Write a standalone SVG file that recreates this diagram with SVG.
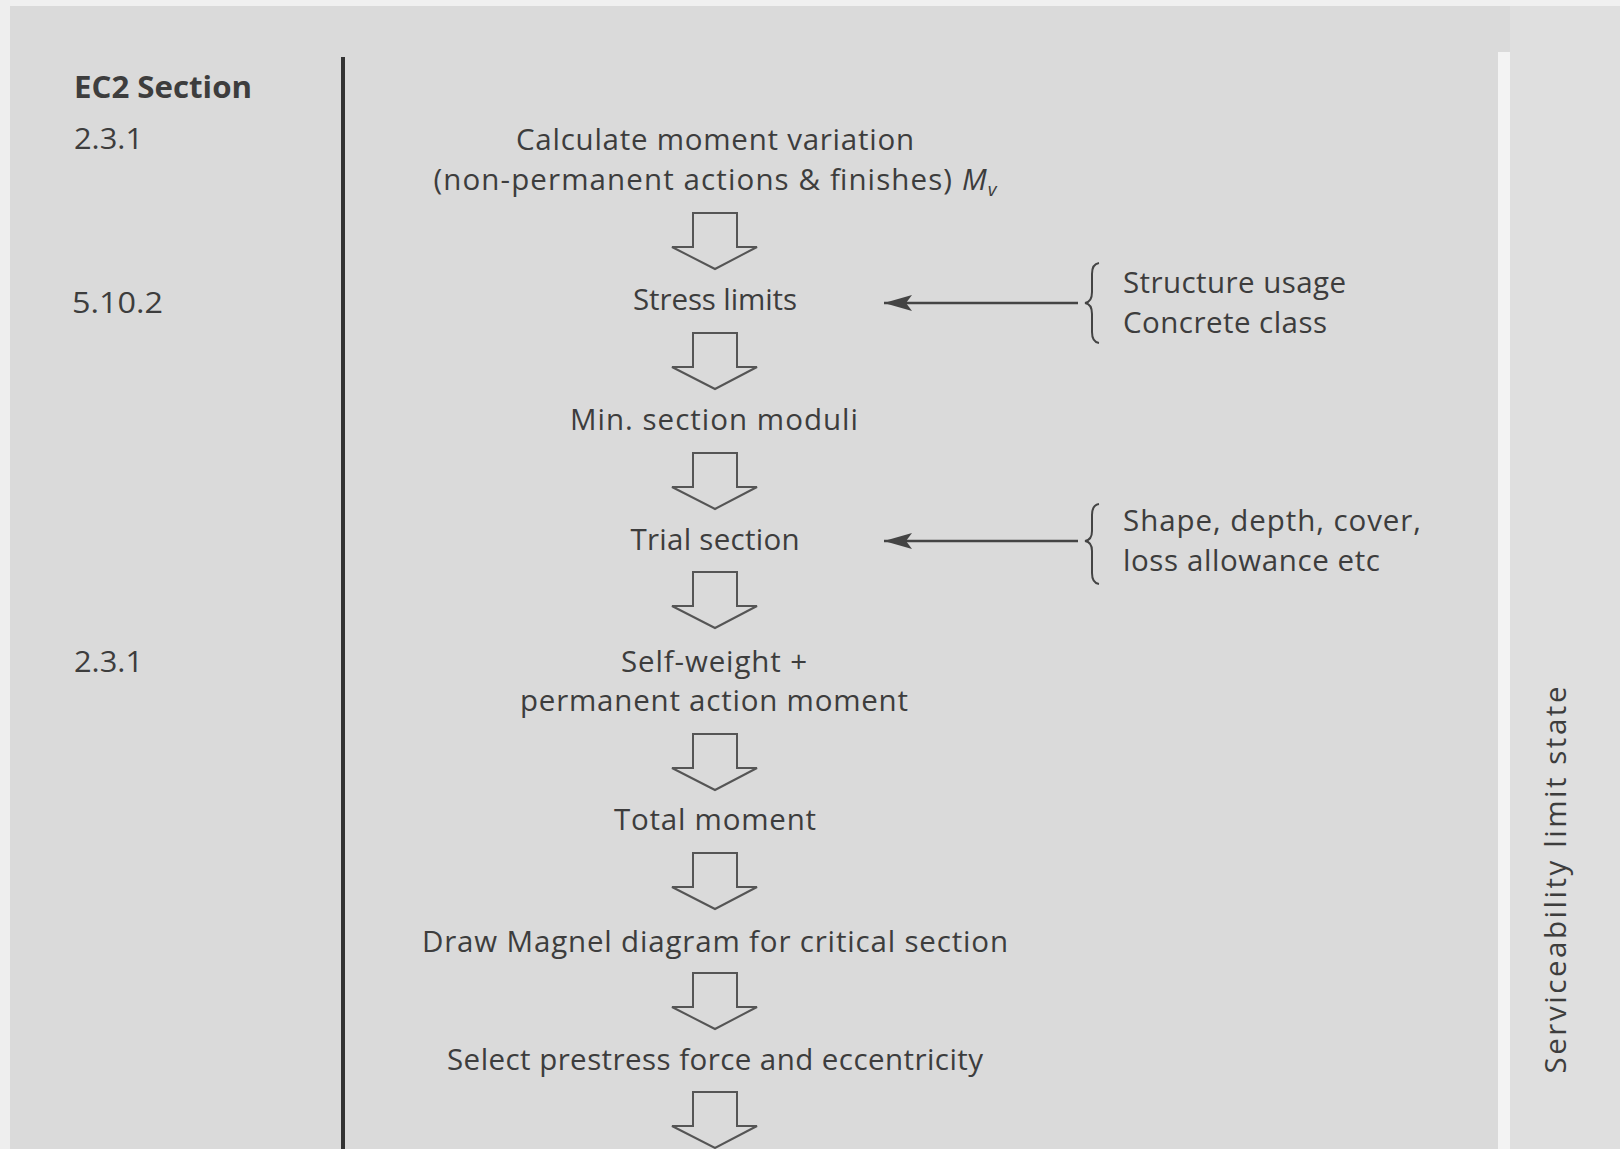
<svg xmlns="http://www.w3.org/2000/svg" width="1620" height="1149" viewBox="0 0 1620 1149">
<defs>
<style>
.t{font-family:"Open Sans","Noto Sans","Liberation Sans",sans-serif;font-size:29.5px;fill:#3d3d3d}
.c{text-anchor:middle}
.b{font-weight:bold}
.arr{fill:none;stroke:#555;stroke-width:2;stroke-linejoin:miter}
.ln{stroke:#444;stroke-width:2.5;fill:none}
.br{stroke:#444;stroke-width:2;fill:none}
</style>
<marker id="ah" markerUnits="userSpaceOnUse" markerWidth="30" markerHeight="18" refX="28" refY="8" orient="auto">
<path d="M0,0 L28,8 L0,16 L6,8 Z" fill="#444"/>
</marker>
<path id="down" d="M693,0 H737 V34 H757 L715,56 L672,34 H693 Z"/>
</defs>
<rect x="0" y="0" width="1620" height="1149" fill="#dadada"/>
<rect x="0" y="0" width="1620" height="6" fill="#f0f0f0"/>
<rect x="0" y="0" width="10" height="1149" fill="#eeeeee"/>
<rect x="1510" y="6" width="110" height="1143" fill="#dfdfdf"/>
<rect x="1498" y="52" width="12" height="1097" fill="#f3f3f3"/>

<g id="column-divider">
<line x1="343" y1="57" x2="343" y2="1149" stroke="#333" stroke-width="4"/>
</g>

<g id="ec2-refs">
<text id="ec2-header" class="t b" x="74" y="98" textLength="178" lengthAdjust="spacingAndGlyphs">EC2 Section</text>
<text class="t" x="74" y="149" textLength="69" lengthAdjust="spacingAndGlyphs">2.3.1</text>
<text class="t" x="72" y="313" textLength="91" lengthAdjust="spacingAndGlyphs">5.10.2</text>
<text class="t" x="74" y="672" textLength="69" lengthAdjust="spacingAndGlyphs">2.3.1</text>
</g>

<g id="connectors">
<use href="#down" class="arr" y="213"/>
<use href="#down" class="arr" y="333"/>
<use href="#down" class="arr" y="453"/>
<use href="#down" class="arr" y="572"/>
<use href="#down" class="arr" y="734"/>
<use href="#down" class="arr" y="853"/>
<use href="#down" class="arr" y="973"/>
<use href="#down" class="arr" y="1092"/>
<line class="ln" x1="1078" y1="303" x2="884" y2="303" marker-end="url(#ah)"/>
<line class="ln" x1="1078" y1="541" x2="884" y2="541" marker-end="url(#ah)"/>
</g>

<g id="n1">
<text class="t c" x="715" y="150" textLength="398" lengthAdjust="spacing">Calculate moment variation</text>
<text class="t c" x="715" y="190" textLength="563" lengthAdjust="spacing">(non-permanent actions &amp; finishes) <tspan font-style="italic">M</tspan><tspan font-style="italic" font-size="19" dy="6">v</tspan></text>
</g>
<g id="n2"><text class="t c" x="715" y="310" textLength="164" lengthAdjust="spacing">Stress limits</text></g>
<g id="n3"><text class="t c" x="714" y="430" textLength="288" lengthAdjust="spacing">Min. section moduli</text></g>
<g id="n4"><text class="t c" x="715" y="550" textLength="169" lengthAdjust="spacing">Trial section</text></g>
<g id="n5">
<text class="t c" x="714" y="672" textLength="186" lengthAdjust="spacing">Self-weight +</text>
<text class="t c" x="714" y="711" textLength="388" lengthAdjust="spacing">permanent action moment</text>
</g>
<g id="n6"><text class="t c" x="715" y="830" textLength="202" lengthAdjust="spacing">Total moment</text></g>
<g id="n7"><text class="t c" x="715" y="952" textLength="586" lengthAdjust="spacing">Draw Magnel diagram for critical section</text></g>
<g id="n8"><text class="t c" x="715" y="1070" textLength="536" lengthAdjust="spacing">Select prestress force and eccentricity</text></g>

<g id="input1">
<path class="br" d="M1099,263 Q1092,264 1092,274 V292 Q1092,302 1085,303 Q1092,304 1092,314 V332 Q1092,342 1099,343"/>
<text class="t" x="1123" y="293" textLength="223" lengthAdjust="spacing">Structure usage</text>
<text class="t" x="1123" y="333" textLength="204" lengthAdjust="spacing">Concrete class</text>
</g>
<g id="input2">
<path class="br" d="M1099,504 Q1092,505 1092,515 V531 Q1092,540 1085,541 Q1092,542 1092,551 V573 Q1092,583 1099,584"/>
<text class="t" x="1123" y="531" textLength="298" lengthAdjust="spacing">Shape, depth, cover,</text>
<text class="t" x="1123" y="571" textLength="257" lengthAdjust="spacing">loss allowance etc</text>
</g>

<g id="sls-label">
<text class="t c" x="1566" y="880" transform="rotate(-90 1566 880)" textLength="387" lengthAdjust="spacing">Serviceability limit state</text>
</g>
</svg>
